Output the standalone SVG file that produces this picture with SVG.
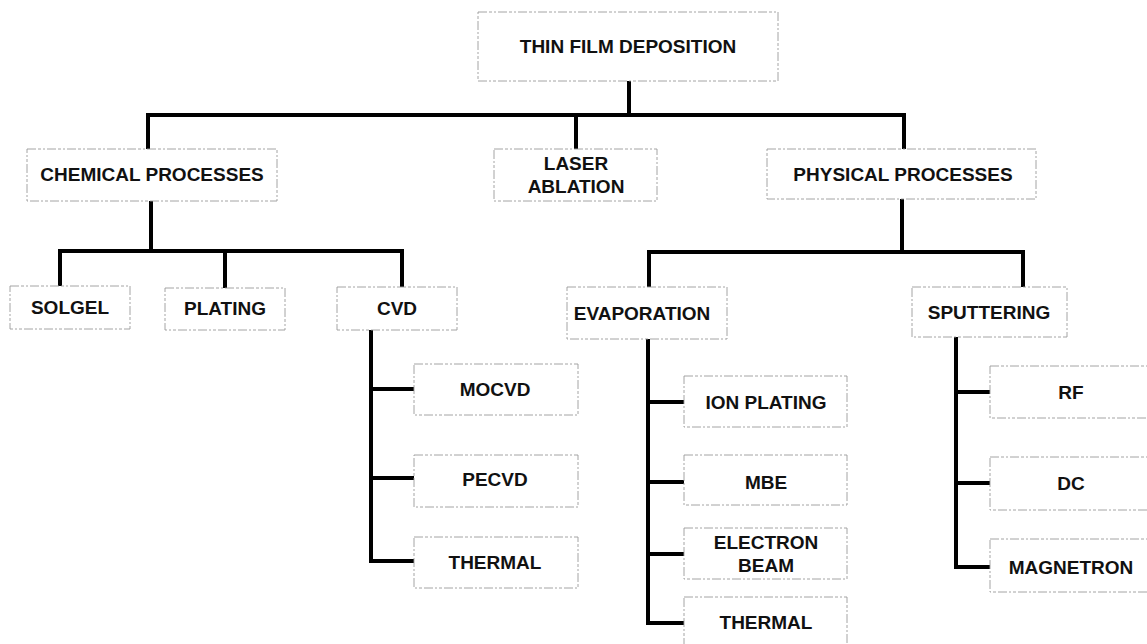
<svg xmlns="http://www.w3.org/2000/svg" width="1147" height="644" viewBox="0 0 1147 644">
<style>
.box{fill:#fff;stroke:#9a9a9a;stroke-width:0.9;stroke-dasharray:9 2 3 2 2 2}
.lbl{font-family:"Liberation Sans",Arial,sans-serif;font-weight:bold;font-size:19px;fill:#111;text-anchor:middle}
.con{fill:none;stroke:#000;stroke-width:4;stroke-linejoin:miter;stroke-linecap:butt}
</style>
<rect width="1147" height="644" fill="#fff"/>
<g id="connectors">
<path class="con" d="M629 81 V115"/>
<path class="con" d="M148 149 V115 H904 V149"/>
<path class="con" d="M576 115 V149"/>
<path class="con" d="M151 201 V251"/>
<path class="con" d="M60 286 V251 H402 V287"/>
<path class="con" d="M225 251 V288"/>
<path class="con" d="M371 330 V561 H414 M371 389 H414 M371 478 H414"/>
<path class="con" d="M902 199 V252"/>
<path class="con" d="M649 287 V252 H1023 V287"/>
<path class="con" d="M648 339 V623 H684 M648 402 H684 M648 482 H684 M648 554 H684"/>
<path class="con" d="M956 337 V567 H990 M956 392 H990 M956 483 H990"/>
</g>
<g id="n-thin-film"><rect class="box" x="478" y="12" width="300" height="69"/><text class="lbl" x="628" y="53">THIN FILM DEPOSITION</text></g>
<g id="n-chemical"><rect class="box" x="27" y="149" width="250" height="52"/><text class="lbl" x="152" y="181">CHEMICAL PROCESSES</text></g>
<g id="n-laser"><rect class="box" x="494" y="149" width="163" height="52"/><text class="lbl" x="576" y="170">LASER</text><text class="lbl" x="576" y="193">ABLATION</text></g>
<g id="n-physical"><rect class="box" x="767" y="149" width="269" height="50"/><text class="lbl" x="903" y="181">PHYSICAL PROCESSES</text></g>
<g id="n-solgel"><rect class="box" x="10" y="286" width="120" height="43"/><text class="lbl" x="70" y="314">SOLGEL</text></g>
<g id="n-plating"><rect class="box" x="165" y="288" width="120" height="42"/><text class="lbl" x="225" y="315">PLATING</text></g>
<g id="n-cvd"><rect class="box" x="337" y="287" width="120" height="43"/><text class="lbl" x="397" y="315">CVD</text></g>
<g id="n-evaporation"><rect class="box" x="567" y="287" width="160" height="52"/><text class="lbl" x="642" y="320">EVAPORATION</text></g>
<g id="n-sputtering"><rect class="box" x="912" y="287" width="155" height="50"/><text class="lbl" x="989" y="319">SPUTTERING</text></g>
<g id="n-mocvd"><rect class="box" x="414" y="364" width="164" height="51"/><text class="lbl" x="495" y="396">MOCVD</text></g>
<g id="n-pecvd"><rect class="box" x="414" y="455" width="164" height="52"/><text class="lbl" x="495" y="486">PECVD</text></g>
<g id="n-thermal-cvd"><rect class="box" x="414" y="537" width="164" height="51"/><text class="lbl" x="495" y="569">THERMAL</text></g>
<g id="n-ion-plating"><rect class="box" x="684" y="376" width="163" height="51"/><text class="lbl" x="766" y="409">ION PLATING</text></g>
<g id="n-mbe"><rect class="box" x="684" y="455" width="163" height="50"/><text class="lbl" x="766" y="489">MBE</text></g>
<g id="n-electron-beam"><rect class="box" x="684" y="528" width="163" height="51"/><text class="lbl" x="766" y="549">ELECTRON</text><text class="lbl" x="766" y="572">BEAM</text></g>
<g id="n-thermal-evap"><rect class="box" x="684" y="597" width="163" height="52"/><text class="lbl" x="766" y="629">THERMAL</text></g>
<g id="n-rf"><rect class="box" x="990" y="366" width="162" height="52"/><text class="lbl" x="1071" y="399">RF</text></g>
<g id="n-dc"><rect class="box" x="990" y="457" width="162" height="53"/><text class="lbl" x="1071" y="490">DC</text></g>
<g id="n-magnetron"><rect class="box" x="990" y="539" width="162" height="53"/><text class="lbl" x="1071" y="574">MAGNETRON</text></g>
</svg>
